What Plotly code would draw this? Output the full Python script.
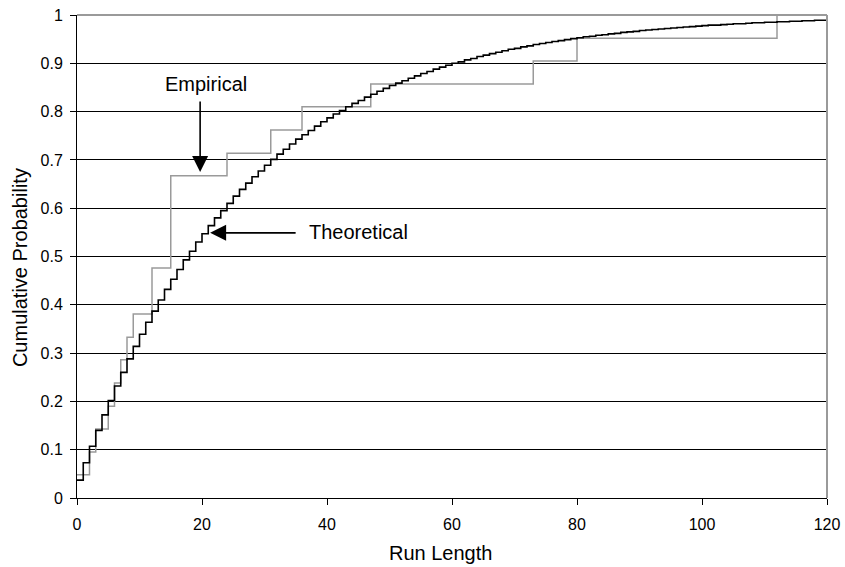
import plotly.graph_objects as go

# Theoretical (step CDF), value on [k, k+1)
theo_x = list(range(0, 121))
theo_y = [0.037, 0.073, 0.107, 0.140, 0.172, 0.202, 0.232, 0.260, 0.288, 0.314,
          0.339, 0.364, 0.387, 0.410, 0.432, 0.453, 0.473, 0.493, 0.511, 0.530,
          0.547, 0.564, 0.580, 0.595, 0.610, 0.625, 0.639, 0.652, 0.665, 0.677,
          0.689, 0.701, 0.712, 0.722, 0.733, 0.743, 0.752, 0.761, 0.770, 0.779,
          0.787, 0.795, 0.802, 0.810, 0.817, 0.823, 0.830, 0.836, 0.842, 0.848,
          0.854, 0.859, 0.864, 0.869, 0.874, 0.879, 0.883, 0.888, 0.892, 0.896,
          0.900, 0.903, 0.907, 0.910, 0.914, 0.917, 0.920, 0.923, 0.926, 0.929,
          0.931, 0.934, 0.936, 0.939, 0.941, 0.943, 0.945, 0.947, 0.949, 0.951,
          0.953, 0.955, 0.956, 0.958, 0.959, 0.961, 0.962, 0.964, 0.965, 0.966,
          0.968, 0.969, 0.970, 0.971, 0.972, 0.973, 0.974, 0.975, 0.976, 0.977,
          0.978, 0.979, 0.979, 0.980, 0.981, 0.982, 0.982, 0.983, 0.984, 0.984,
          0.985, 0.985, 0.986, 0.986, 0.987, 0.987, 0.988, 0.988, 0.989, 0.989,
          0.990]

# Empirical step CDF
emp_x = [0, 2, 3, 5, 6, 7, 8, 9, 12, 15, 24, 31, 36, 47, 73, 80, 112, 120]
emp_y = [0.048, 0.095, 0.143, 0.190, 0.238, 0.286, 0.333, 0.381, 0.476, 0.667,
         0.714, 0.762, 0.810, 0.857, 0.905, 0.952, 1.0, 1.0]

x_ticks = [0, 20, 40, 60, 80, 100, 120]
y_ticks = [0, 0.1, 0.2, 0.3, 0.4, 0.5, 0.6, 0.7, 0.8, 0.9, 1]
y_tick_text = ["0", "0.1", "0.2", "0.3", "0.4", "0.5", "0.6", "0.7", "0.8", "0.9", "1"]

FONT = "Liberation Sans, Arial, sans-serif"

fig = go.Figure()
fig.add_trace(go.Scatter(x=emp_x, y=emp_y, mode="lines", line_shape="hv",
                         line=dict(color="#9a9a9a", width=1.5), name="Empirical",
                         showlegend=False))
fig.add_trace(go.Scatter(x=theo_x, y=theo_y, mode="lines", line_shape="hv",
                         line=dict(color="#000000", width=1.6), name="Theoretical",
                         showlegend=False))

fig.update_layout(
    width=845, height=567,
    margin=dict(l=77, r=18, t=15, b=69, autoexpand=False),
    paper_bgcolor="white", plot_bgcolor="white",
    font=dict(family=FONT, color="black", size=16),
    xaxis=dict(range=[0, 120], tickvals=x_ticks, ticks="outside", ticklen=6,
               tickcolor="black", showline=True, linecolor="black", linewidth=1,
               showgrid=False, zeroline=False, tickfont=dict(size=16),
               ticklabelstandoff=6, automargin=False),
    yaxis=dict(range=[0, 1], tickvals=y_ticks, ticktext=y_tick_text,
               ticks="outside", ticklen=6, tickcolor="black",
               showline=True, linecolor="black", linewidth=1,
               showgrid=True, gridcolor="black", gridwidth=1, zeroline=False,
               tickfont=dict(size=16), ticklabelstandoff=4, automargin=False),
    shapes=[
        dict(type="line", xref="paper", yref="paper", x0=0, x1=1, y0=1, y1=1,
             line=dict(color="#9a9a9a", width=2), layer="above"),
        dict(type="line", xref="paper", yref="paper", x0=1, x1=1, y0=0, y1=1,
             line=dict(color="#9a9a9a", width=2), layer="above"),
    ],
    annotations=[
        dict(text="Cumulative Probability", xref="paper", yref="paper",
             x=-0.076, y=0.476, textangle=-90, showarrow=False,
             font=dict(size=20), xanchor="center", yanchor="middle"),
        dict(text="Run Length", xref="paper", yref="paper",
             x=0.484, y=-0.114, showarrow=False,
             font=dict(size=20), xanchor="center", yanchor="middle"),
        dict(text="Empirical", x=20.6, y=0.857, xref="x", yref="y",
             showarrow=False, font=dict(size=20), xanchor="center", yanchor="middle"),
        dict(text="Theoretical", x=45.0, y=0.551, xref="x", yref="y",
             showarrow=False, font=dict(size=20), xanchor="center", yanchor="middle"),
        dict(text="", x=19.7, y=0.675, xref="x", yref="y", showarrow=True,
             ax=0, ay=-72, arrowhead=2, arrowsize=2, arrowwidth=1.6,
             arrowcolor="black", standoff=0),
        dict(text="", x=21.3, y=0.549, xref="x", yref="y", showarrow=True,
             ax=87, ay=0, arrowhead=2, arrowsize=2, arrowwidth=1.6,
             arrowcolor="black", standoff=0),
    ],
)

fig.write_html("out.html")
